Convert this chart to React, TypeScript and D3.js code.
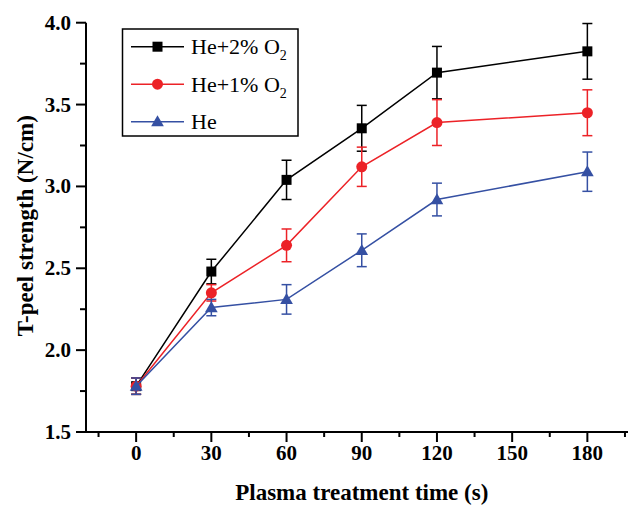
import * as d3 from "d3";

const times = [0, 30, 60, 90, 120, 180];
const he2 = [1.78, 2.48, 3.04, 3.355, 3.695, 3.825];
const he2Err = [0.05, 0.075, 0.12, 0.14, 0.16, 0.17];
const he1 = [1.78, 2.35, 2.64, 3.12, 3.39, 3.45];
const he1Err = [0.05, 0.05, 0.1, 0.12, 0.14, 0.14];
const he = [1.78, 2.26, 2.31, 2.61, 2.92, 3.09];
const heErr = [0.05, 0.05, 0.09, 0.1, 0.1, 0.12];
const xTicks = [0, 30, 60, 90, 120, 150, 180];
const yTicks = [1.5, 2.0, 2.5, 3.0, 3.5, 4.0];

const W = 628;
const H = 506;
const FONT = "'Liberation Serif', 'Times New Roman', serif";

type Marker = "square" | "circle" | "triangle";

const series: { name: string; sub: string | null; color: string; marker: Marker; values: number[]; err: number[] }[] = [
  { name: "He+2% O", sub: "2", color: "#000000", marker: "square", values: he2, err: he2Err },
  { name: "He+1% O", sub: "2", color: "#ec2227", marker: "circle", values: he1, err: he1Err },
  { name: "He", sub: null, color: "#3550a3", marker: "triangle", values: he, err: heErr },
];

function Mark({ kind, x, y, color }: { kind: Marker; x: number; y: number; color: string }) {
  if (kind === "square") return <rect x={x - 5} y={y - 5} width={10} height={10} fill={color} />;
  if (kind === "circle") return <circle cx={x} cy={y} r={5.5} fill={color} />;
  const sym = d3.symbol().type(d3.symbolTriangle).size(70)();
  return <path d={sym ?? ""} transform={`translate(${x},${y + 1})`} fill={color} />;
}

export default function App() {
  const x = d3.scaleLinear().domain([-20, 200]).range([86, 637.5]);
  const y = d3.scaleLinear().domain([1.5, 4.0]).range([432, 22.7]);
  const x0 = x(-20);
  const y0 = y(1.5);

  const minorX = d3.range(-15, 200, 30);
  const minorY = d3.range(1.75, 4.0, 0.5);

  const line = d3
    .line<number>()
    .x((_, i) => x(times[i]))
    .y((d) => y(d));

  return (
    <svg width={W} height={H} style={{ position: "absolute", left: 0, top: 0, background: "#fff" }} fontFamily={FONT}>
      {/* axes */}
      <line x1={x0} x2={W} y1={y0} y2={y0} stroke="#000" strokeWidth={2} />
      <line x1={x0} x2={x0} y1={y(4.0)} y2={y0 + 1} stroke="#000" strokeWidth={2} />

      {xTicks.map((t) => (
        <g key={t}>
          <line x1={x(t)} x2={x(t)} y1={y0} y2={y0 + 10} stroke="#000" strokeWidth={2} />
          <text x={x(t)} y={y0 + 28} textAnchor="middle" fontSize={21} fontWeight="bold">{t}</text>
        </g>
      ))}
      {minorX.map((t) => (
        <line key={t} x1={x(t)} x2={x(t)} y1={y0} y2={y0 + 5} stroke="#000" strokeWidth={2} />
      ))}
      {yTicks.map((t) => (
        <g key={t}>
          <line x1={x0 - 10} x2={x0} y1={y(t)} y2={y(t)} stroke="#000" strokeWidth={2} />
          <text x={x0 - 15} y={y(t) + 7} textAnchor="end" fontSize={21} fontWeight="bold">{t.toFixed(1)}</text>
        </g>
      ))}
      {minorY.map((t) => (
        <line key={t} x1={x0 - 6} x2={x0} y1={y(t)} y2={y(t)} stroke="#000" strokeWidth={2} />
      ))}

      <text x={x(90)} y={500} textAnchor="middle" fontSize={23} fontWeight="bold">Plasma treatment time (s)</text>
      <text transform={`translate(33,${y(2.76)}) rotate(-90)`} textAnchor="middle" fontSize={23} fontWeight="bold">T-peel strength (N/cm)</text>

      {/* series */}
      {series.map((s) => (
        <g key={s.name + s.color}>
          <path d={line(s.values) ?? ""} fill="none" stroke={s.color} strokeWidth={1.5} />
          {s.values.map((v, i) => {
            const cx = x(times[i]);
            const top = y(v + s.err[i]);
            const bot = y(v - s.err[i]);
            return (
              <g key={i} stroke={s.color} strokeWidth={1.5}>
                <line x1={cx} x2={cx} y1={top} y2={bot} />
                <line x1={cx - 5} x2={cx + 5} y1={top} y2={top} />
                <line x1={cx - 5} x2={cx + 5} y1={bot} y2={bot} />
              </g>
            );
          })}
          {s.values.map((v, i) => (
            <Mark key={i} kind={s.marker} x={x(times[i])} y={y(v)} color={s.color} />
          ))}
        </g>
      ))}

      {/* legend */}
      <rect x={122.5} y={29} width={175.5} height={107} fill="#fff" stroke="#000" strokeWidth={1.5} />
      {series.map((s, i) => {
        const ly = 46.7 + i * 37.5;
        return (
          <g key={i}>
            <line x1={131} x2={184} y1={ly} y2={ly} stroke={s.color} strokeWidth={1.5} />
            <Mark kind={s.marker} x={157.5} y={ly} color={s.color} />
            <text x={191} y={ly + 7.5} fontSize={22}>
              {s.name}
              {s.sub && <tspan fontSize={14} dy={6}>{s.sub}</tspan>}
            </text>
          </g>
        );
      })}
    </svg>
  );
}
